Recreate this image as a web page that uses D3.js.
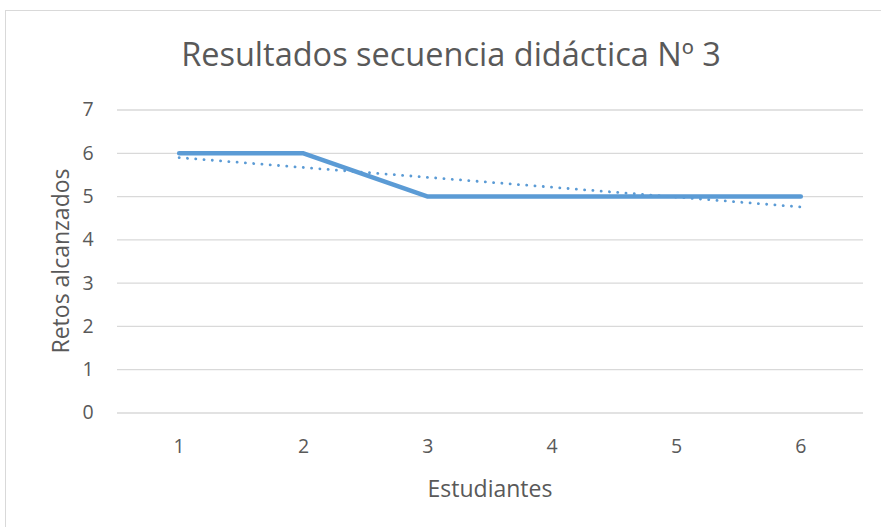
<!DOCTYPE html>
<html>
<head>
<meta charset="utf-8">
<script src="https://cdn.jsdelivr.net/npm/d3@7"></script>
<style>
  body { margin: 0; background: #fff; }
  svg { display: block; font-family: "Open Sans", sans-serif; }
</style>
</head>
<body>
<svg id="chart" width="881" height="527"></svg>
<script>
const students = [1, 2, 3, 4, 5, 6];
const retos = [6, 6, 5, 5, 5, 5];
// linear trendline, read at the first and last student
const trendX = [1, 6];
const trendY = [5.9, 4.76];
const yTicks = [0, 1, 2, 3, 4, 5, 6, 7];

const svg = d3.select("#chart");
const width = 881, height = 527;
const margin = { top: 110, right: 18, bottom: 114, left: 117 };

svg.append("rect")
    .attr("x", 5.5).attr("y", 10.5)
    .attr("width", 900).attr("height", 600)
    .attr("fill", "#fff")
    .attr("stroke", "#d9d9d9");

const x = d3.scaleBand()
    .domain(students)
    .range([margin.left, width - margin.right]);

const xPos = d => x(d) + x.bandwidth() / 2;

const y = d3.scaleLinear()
    .domain([0, 7])
    .range([height - margin.bottom, margin.top]);

// gridlines
svg.append("g")
    .selectAll("line")
    .data(yTicks)
    .enter()
    .append("line")
    .attr("x1", margin.left)
    .attr("x2", width - margin.right)
    .attr("y1", d => y(d))
    .attr("y2", d => y(d))
    .attr("stroke", "#d9d9d9")
    .attr("stroke-width", 1.3);

// y tick labels
svg.append("g")
    .selectAll("text")
    .data(yTicks)
    .enter()
    .append("text")
    .attr("x", 88)
    .attr("y", d => y(d))
    .attr("dy", "0.33em")
    .attr("text-anchor", "middle")
    .attr("font-size", 19.5)
    .attr("fill", "#595959")
    .text(d => d);

// x tick labels
svg.append("g")
    .selectAll("text")
    .data(students)
    .enter()
    .append("text")
    .attr("x", d => xPos(d))
    .attr("y", y(0) + 40)
    .attr("text-anchor", "middle")
    .attr("font-size", 19.5)
    .attr("fill", "#595959")
    .text(d => d);

// data line
const line = d3.line()
    .x(d => xPos(d[0]))
    .y(d => y(d[1]));

svg.append("path")
    .datum(students.map((s, i) => [s, retos[i]]))
    .attr("d", line)
    .attr("fill", "none")
    .attr("stroke", "#5b9bd5")
    .attr("stroke-width", 4.5)
    .attr("stroke-linejoin", "round")
    .attr("stroke-linecap", "round");

// trendline
svg.append("path")
    .datum(trendX.map((s, i) => [s, trendY[i]]))
    .attr("d", line)
    .attr("fill", "none")
    .attr("stroke", "#5b9bd5")
    .attr("stroke-width", 2.8)
    .attr("stroke-dasharray", "0.1 8.2")
    .attr("stroke-linecap", "round");

// title
svg.append("text")
    .attr("x", 451)
    .attr("y", 66)
    .attr("text-anchor", "middle")
    .attr("font-size", 32.5)
    .attr("fill", "#595959")
    .text("Resultados secuencia didáctica Nº 3");

// axis titles
svg.append("text")
    .attr("x", 490)
    .attr("y", 497)
    .attr("text-anchor", "middle")
    .attr("font-size", 23)
    .attr("fill", "#595959")
    .text("Estudiantes");

svg.append("text")
    .attr("transform", "translate(69,261) rotate(-90)")
    .attr("text-anchor", "middle")
    .attr("font-size", 23)
    .attr("fill", "#595959")
    .text("Retos alcanzados");
</script>
</body>
</html>
